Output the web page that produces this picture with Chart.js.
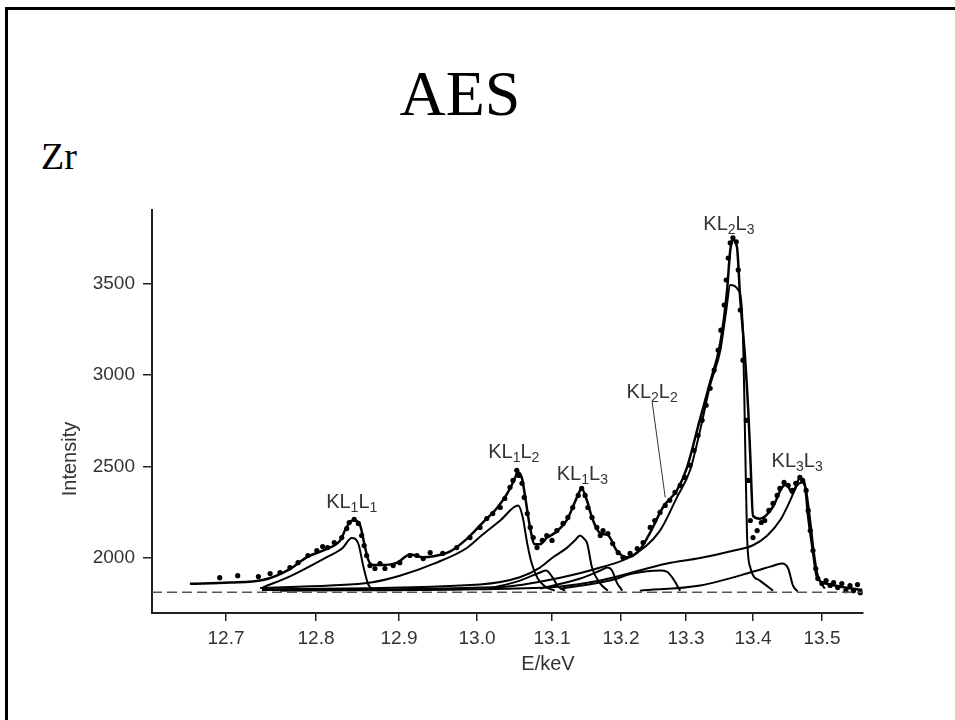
<!DOCTYPE html>
<html>
<head>
<meta charset="utf-8">
<script src="https://cdn.jsdelivr.net/npm/chart.js@4.4.0/dist/chart.umd.min.js"></script>
<style>
    html, body { margin: 0; padding: 0; background: #fff; overflow: hidden; }
    #frame { position: absolute; left: 5px; top: 7px; width: 990px; height: 760px; border-left: 3px solid #000; border-top: 3px solid #000; }
    #title { position: absolute; left: 460px; top: 62px; transform: translateX(-50%); font: 64px/1 "Liberation Serif", "Times New Roman", serif; color: #000; }
    #elem { position: absolute; left: 41px; top: 137px; font: 38px/1 "Liberation Serif", "Times New Roman", serif; color: #000; }
    canvas { position: absolute; left: 0; top: 0; }
</style>
</head>
<body>
<div id="frame"></div>
<div id="title">AES</div>
<div id="elem">Zr</div>
<canvas id="chart" width="955" height="720"></canvas>
<script>
// Ticks
const xTicks = [12.7, 12.8, 12.9, 13.0, 13.1, 13.2, 13.3, 13.4, 13.5];
const yTicks = [2000, 2500, 3000, 3500];
const baseline = 1813;

// Puntos medidos
const dotE = [12.693, 12.713, 12.736, 12.749, 12.760, 12.771, 12.780, 12.791, 12.801, 12.808, 12.814, 12.822, 12.831, 12.837, 12.840, 12.846, 12.851, 12.855, 12.858, 12.861,
    12.865, 12.871, 12.877, 12.883, 12.893, 12.901, 12.914, 12.923, 12.931, 12.940, 12.956, 12.974, 12.991, 13.004, 13.013, 13.021, 13.031, 13.037, 13.044, 13.048,
    13.053, 13.056, 13.060, 13.063, 13.067, 13.071, 13.075, 13.080, 13.087, 13.093, 13.100, 13.107, 13.116, 13.123, 13.130, 13.138, 13.143, 13.148, 13.152, 13.158,
    13.165, 13.170, 13.174, 13.181, 13.188, 13.196, 13.203, 13.214, 13.225, 13.234, 13.245, 13.252, 13.260, 13.268, 13.275, 13.283, 13.291, 13.298, 13.306, 13.312,
    13.318, 13.324, 13.330, 13.336, 13.342, 13.348, 13.352, 13.357, 13.360, 13.363, 13.366, 13.370, 13.375, 13.378, 13.381, 13.385, 13.390, 13.393, 13.396, 13.400,
    13.406, 13.412, 13.417, 13.423, 13.429, 13.435, 13.439, 13.445, 13.451, 13.457, 13.462, 13.468, 13.472, 13.477, 13.480, 13.483, 13.487, 13.491, 13.494, 13.500,
    13.506, 13.512, 13.517, 13.523, 13.529, 13.535, 13.541, 13.546, 13.552, 13.556];
const dotI = [1893, 1904, 1899, 1915, 1921, 1948, 1975, 2014, 2041, 2063, 2057, 2085, 2112, 2161, 2194, 2211, 2189, 2123, 2068, 2014,
    1959, 1943, 1970, 1943, 1959, 1975, 2014, 2014, 1997, 2030, 2025, 2057, 2112, 2167, 2216, 2243, 2276, 2325, 2386, 2424,
    2479, 2451, 2408, 2331, 2243, 2167, 2112, 2057, 2096, 2123, 2096, 2150, 2189, 2222, 2276, 2342, 2380, 2342, 2276, 2222,
    2167, 2123, 2150, 2134, 2079, 2030, 2003, 2025, 2052, 2085, 2167, 2205, 2249, 2287, 2315, 2358, 2397, 2440, 2506, 2588,
    2670, 2752, 2834, 2927, 3026, 3135, 3244, 3381, 3518, 3638, 3720, 3748, 3726, 3573, 3354, 3080, 2752, 2424, 2205, 2112,
    2150, 2194, 2205, 2260, 2298, 2342, 2380, 2413, 2397, 2369, 2408, 2440, 2424, 2369, 2260, 2150, 2041, 1943, 1888, 1861,
    1877, 1850, 1866, 1839, 1861, 1822, 1850, 1822, 1855, 1811];

// Ajuste total
const fitE = [12.660, 12.704, 12.741, 12.771, 12.790, 12.813, 12.829, 12.837, 12.845, 12.853, 12.859, 12.863, 12.869, 12.880, 12.898, 12.914, 12.930, 12.944, 12.965, 12.987,
    13.008, 13.027, 13.040, 13.051, 13.054, 13.060, 13.064, 13.071, 13.077, 13.084, 13.093, 13.107, 13.122, 13.136, 13.143, 13.151, 13.158, 13.170, 13.181, 13.194,
    13.209, 13.229, 13.245, 13.265, 13.286, 13.301, 13.321, 13.336, 13.351, 13.361, 13.366, 13.370, 13.376, 13.381, 13.388, 13.393, 13.396, 13.400, 13.410, 13.429,
    13.442, 13.449, 13.457, 13.468, 13.475, 13.480, 13.486, 13.493, 13.507, 13.541, 13.559];
const fitI = [1860, 1866, 1880, 1940, 2005, 2050, 2096, 2170, 2208, 2180, 2060, 1990, 1962, 1962, 1975, 2020, 2005, 2010, 2035, 2105,
    2195, 2275, 2350, 2440, 2470, 2435, 2340, 2160, 2075, 2075, 2110, 2145, 2210, 2330, 2378, 2310, 2220, 2135, 2125, 2040,
    2005, 2045, 2140, 2280, 2370, 2490, 2760, 2960, 3170, 3450, 3680, 3737, 3700, 3410, 3100, 2800, 2550, 2230, 2215, 2280,
    2385, 2400, 2355, 2435, 2405, 2225, 2060, 1895, 1860, 1835, 1825];

// Componentes
const kl1l1E = [12.741, 12.771, 12.813, 12.832, 12.843, 12.851, 12.857, 12.863, 12.871];
const kl1l1I = [1840, 1900, 2005, 2055, 2110, 2078, 1955, 1855, 1825];

const kl1l2E = [12.738, 12.817, 12.866, 12.901, 12.944, 12.987, 13.008, 13.031, 13.055, 13.061, 13.067, 13.073, 13.081, 13.091, 13.104];
const kl1l2I = [1836, 1850, 1866, 1903, 1968, 2055, 2130, 2205, 2287, 2222, 2079, 1970, 1888, 1844, 1822];

const sat1E = [13.017, 13.057, 13.084, 13.092, 13.100, 13.109, 13.119];
const sat1I = [1833, 1877, 1921, 1932, 1899, 1844, 1822];

const kl1l3E = [12.740, 13.004, 13.057, 13.084, 13.101, 13.122, 13.133, 13.141, 13.146, 13.151, 13.158, 13.170, 13.181];
const kl1l3I = [1830, 1856, 1895, 1948, 2003, 2057, 2096, 2123, 2107, 2079, 1948, 1860, 1822];

const sat2E = [13.084, 13.141, 13.170, 13.180, 13.187, 13.194, 13.202];
const sat2I = [1833, 1888, 1932, 1948, 1932, 1866, 1822];

const kl2l2E = [13.112, 13.184, 13.218, 13.260, 13.271, 13.279, 13.291];
const kl2l2I = [1833, 1877, 1915, 1932, 1925, 1893, 1822];

const kl2l3E = [12.740, 13.031, 13.112, 13.170, 13.218, 13.260, 13.286, 13.306, 13.321, 13.336, 13.351, 13.360, 13.366, 13.378, 13.385, 13.388, 13.391, 13.396, 13.410, 13.429];
const kl2l3I = [1826, 1842, 1893, 1948, 2014, 2150, 2331, 2479, 2697, 2943, 3130, 3350, 3490, 3463, 3228, 2681, 2134, 1948, 1877, 1822];

const kl3l3E = [12.760, 13.000, 13.112, 13.170, 13.271, 13.321, 13.370, 13.400, 13.420, 13.440, 13.454, 13.464, 13.471, 13.477, 13.483, 13.488, 13.494, 13.504];
const kl3l3I = [1822, 1830, 1845, 1877, 1970, 2000, 2040, 2070, 2120, 2210, 2315, 2397, 2413, 2369, 2205, 2041, 1904, 1833];

const sat3E = [13.229, 13.321, 13.406, 13.425, 13.442, 13.451, 13.458, 13.465];
const sat3I = [1822, 1850, 1932, 1953, 1970, 1943, 1850, 1817];

// Etiquetas de picos (centro, linea base)
const labelNames = ['KL1L1', 'KL1L2', 'KL1L3', 'KL2L2', 'KL2L3', 'KL3L3'];
const labelE = [12.843, 13.049, 13.144, 13.248, 13.364, 13.464];
const labelI = [2271, 2544, 2424, 2872, 3791, 2495];
const leaderE = [13.248, 13.268];
const leaderI = [2851, 2331];

// Eje x no uniforme (como en la figura original)
const axisE = [12.618, 12.7, 12.8, 12.9, 13.0, 13.1, 13.2, 13.3, 13.4, 13.5, 13.56];
const axisFrac = [0, 0.1041, 0.2307, 0.3474, 0.4571, 0.5626, 0.6596, 0.7511, 0.8453, 0.9423, 1];

function interp(v, from, to) {
    let i = 0;
    while (i < from.length - 2 && v > from[i + 1]) i++;
    return to[i] + (v - from[i]) * (to[i + 1] - to[i]) / (from[i + 1] - from[i]);
}

class WarpScale extends Chart.LinearScale {
    getPixelForValue(value) {
        if (value === null || value === undefined) return NaN;
        return this.getPixelForDecimal(interp(value, axisE, axisFrac));
    }
    getValueForPixel(pixel) {
        return interp(this.getDecimalForPixel(pixel), axisFrac, axisE);
    }
}
WarpScale.id = 'warp';
WarpScale.defaults = Chart.LinearScale.defaults;
Chart.register(WarpScale);

const pts = (xs, ys) => xs.map((x, i) => ({ x: x, y: ys[i] }));
const curve = (xs, ys, w) => ({
    data: pts(xs, ys), showLine: true, borderColor: '#000', borderWidth: w || 2,
    pointRadius: 0, cubicInterpolationMode: 'monotone', fill: false
});

const sans = 'Liberation Sans, Arial, Helvetica, sans-serif';

const annotate = {
    id: 'annotate',
    afterDatasetsDraw(chart) {
        const { ctx, scales: { x, y } } = chart;
        ctx.save();
        ctx.fillStyle = '#333';
        ctx.textBaseline = 'alphabetic';
        ctx.textAlign = 'left';
        const big = '20px ' + sans, small = '14px ' + sans;
        labelNames.forEach((name, i) => {
            const chars = name.split('');
            let w = 0;
            chars.forEach(ch => { ctx.font = /\d/.test(ch) ? small : big; w += ctx.measureText(ch).width; });
            let px = x.getPixelForValue(labelE[i]) - w / 2;
            const py = y.getPixelForValue(labelI[i]);
            chars.forEach(ch => {
                const sub = /\d/.test(ch);
                ctx.font = sub ? small : big;
                ctx.fillText(ch, px, py + (sub ? 4 : 0));
                px += ctx.measureText(ch).width;
            });
        });
        // linea guia KL2L2
        ctx.strokeStyle = '#333';
        ctx.lineWidth = 1;
        ctx.beginPath();
        ctx.moveTo(x.getPixelForValue(leaderE[0]), y.getPixelForValue(leaderI[0]));
        ctx.lineTo(x.getPixelForValue(leaderE[1]), y.getPixelForValue(leaderI[1]));
        ctx.stroke();
        // titulos de ejes
        ctx.font = '20px ' + sans;
        ctx.textAlign = 'center';
        ctx.fillText('E/keV', 548, 670);
        ctx.translate(76, 459);
        ctx.rotate(-Math.PI / 2);
        ctx.fillText('Intensity', 0, 0);
        ctx.restore();
    }
};

new Chart(document.getElementById('chart'), {
    type: 'scatter',
    data: {
        datasets: [
            { data: [{ x: 12.618, y: baseline }, { x: 13.56, y: baseline }], showLine: true, borderColor: '#555', borderWidth: 1.5, borderDash: [10, 5], pointRadius: 0 },
            curve(kl1l1E, kl1l1I),
            curve(kl1l2E, kl1l2I),
            curve(sat1E, sat1I),
            curve(kl1l3E, kl1l3I),
            curve(sat2E, sat2I),
            curve(kl2l2E, kl2l2I),
            curve(kl2l3E, kl2l3I),
            curve(kl3l3E, kl3l3I),
            curve(sat3E, sat3I),
            curve(fitE, fitI, 2.5),
            { data: pts(dotE, dotI), showLine: false, pointRadius: 2.6, pointBackgroundColor: '#000', pointBorderWidth: 0 }
        ]
    },
    options: {
        responsive: false,
        animation: false,
        layout: { padding: { left: 0, top: 210, right: 92, bottom: 0 } },
        plugins: { legend: { display: false }, tooltip: { enabled: false } },
        scales: {
            x: {
                type: 'warp', min: 12.618, max: 13.56,
                afterBuildTicks: s => { s.ticks = xTicks.map(v => ({ value: v })); },
                afterFit: s => { s.height = 107; },
                grid: { drawOnChartArea: false, drawTicks: true, tickLength: 8, color: '#222', lineWidth: 1.5 },
                border: { color: '#222', width: 2 },
                ticks: { color: '#333', font: { family: sans, size: 19 }, padding: 6, maxRotation: 0, autoSkip: false, callback: v => v.toFixed(1) }
            },
            y: {
                min: 1700, max: 3900,
                afterBuildTicks: s => { s.ticks = yTicks.map(v => ({ value: v })); },
                afterFit: s => { s.width = 152; },
                grid: { drawOnChartArea: false, drawTicks: true, tickLength: 9, color: '#222', lineWidth: 1.5 },
                border: { color: '#222', width: 2 },
                ticks: { color: '#333', font: { family: sans, size: 19 }, padding: 8, callback: v => String(v) }
            }
        }
    },
    plugins: [annotate]
});
</script>
</body>
</html>
